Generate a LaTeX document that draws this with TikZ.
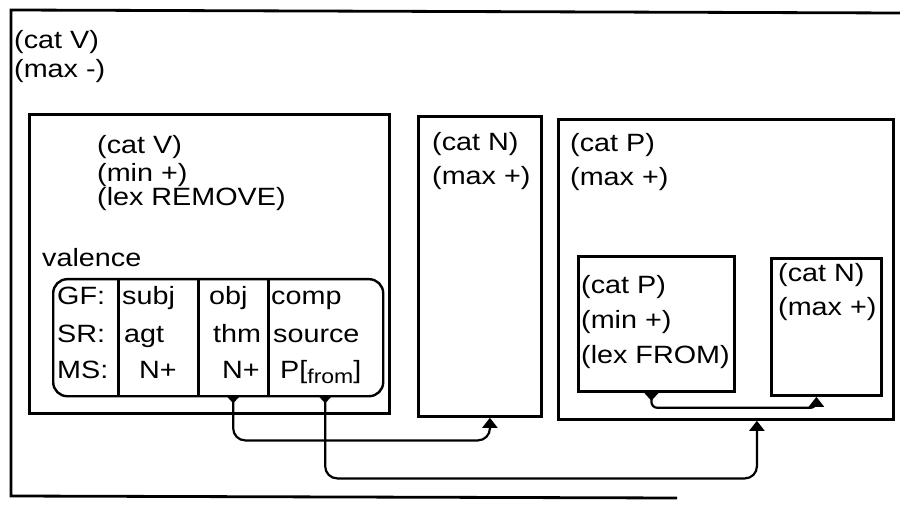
\documentclass[tikz,border=0pt]{standalone}
\usepackage{fontspec}
\setmainfont[FakeStretch=1.15]{Liberation Sans}
\usetikzlibrary{arrows.meta}
\begin{document}
\begin{tikzpicture}[x=1pt,y=-1pt,
 lbl/.style={anchor=base west, inner sep=0pt, font=\fontsize{25}{25}\selectfont},
 box/.style={draw, line width=2.8pt, anchor=north west, inner sep=0pt},
 col/.style={anchor=north west, inner sep=0pt, minimum height=117pt},
 divider/.style={line width=2.2pt},
 conn/.style={line width=2.2pt, rounded corners=12pt,
   {Triangle[reversed,length=8pt,width=14pt]}-{Triangle[length=10pt,width=15pt]}}]
\useasboundingbox (0,0) rectangle (900,505);
% outer frame
\draw[line width=2.8pt] (900,13) -- (11,10) -- (11,496) -- (677,498);
\node[lbl] (o1) at (14,49) {(cat V)};
\node[lbl] (o2) at (14,78) {(max -)};
% V box
\node[box, minimum width=360pt, minimum height=299pt] (vbox) at (28,113) {};
\node[lbl] (v1) at (97,154) {(cat V)};
\node[lbl] (v2) at (97,182) {(min +)};
\node[lbl] (v3) at (97,206) {(lex REMOVE)};
\node[lbl] (val) at (42,267) {valence};
% valence table
\node[box, line width=2.4pt, rounded corners=14pt, minimum width=330pt, minimum height=117pt] (valtab) at (52,278) {};
\node[col, minimum width=66pt] (col1) at (52,278) {};
\node[col, minimum width=80pt] (col2) at (118,278) {};
\node[col, minimum width=70pt] (col3) at (198,278) {};
\node[col, minimum width=114pt] (col4) at (268,278) {};
\draw[divider] (col1.north east) -- (col1.south east);
\draw[divider] (col2.north east) -- (col2.south east);
\draw[divider] (col3.north east) -- (col3.south east);
\node[lbl] (gf) at (57,305) {GF:};
\node[lbl] (sr) at (57,342) {SR:};
\node[lbl] (ms) at (57,378) {MS:};
\node[lbl] (subj) at (122,305) {subj};
\node[lbl] (agt) at (124,342) {agt};
\node[lbl] (np1) at (139,378) {N+};
\node[lbl] (obj) at (209,305) {obj};
\node[lbl] (thm) at (213,342) {thm};
\node[lbl] (np2) at (222,378) {N+};
\node[lbl] (comp) at (271,305) {comp};
\node[lbl] (src) at (273,342) {source};
\node[lbl] (pfrom) at (280,378) {P[\raisebox{-5pt}{\fontsize{20}{20}\selectfont from}]};
% N box
\node[box, minimum width=123pt, minimum height=300pt] (nbox) at (417,115) {};
\node[lbl] (n1) at (432,151) {(cat N)};
\node[lbl] (n2) at (432,185) {(max +)};
% P box
\node[box, minimum width=335pt, minimum height=300pt] (pbox) at (557,118) {};
\node[lbl] (p1) at (570,152) {(cat P)};
\node[lbl] (p2) at (570,186) {(max +)};
% inner P box
\node[box, minimum width=156pt, minimum height=135pt] (ipbox) at (577,255) {};
\node[lbl] (ip1) at (581,294) {(cat P)};
\node[lbl] (ip2) at (581,328) {(min +)};
\node[lbl] (ip3) at (581,363) {(lex FROM)};
% inner N box
\node[box, minimum width=110pt, minimum height=137pt] (inbox) at (770,257) {};
\node[lbl] (in1) at (778,281) {(cat N)};
\node[lbl] (in2) at (778,316) {(max +)};
% connectors
\draw[conn] (col3.south) -- ++(0,45) -| ([xshift=10pt]nbox.south);
\draw[conn] (col4.south) -- ++(0,83) -| ([xshift=31pt]pbox.south);
\draw[conn, rounded corners=6pt] ([xshift=-5pt]ipbox.south) -- ++(0,15) -| ([xshift=-10pt]inbox.south);
\end{tikzpicture}
\end{document}
